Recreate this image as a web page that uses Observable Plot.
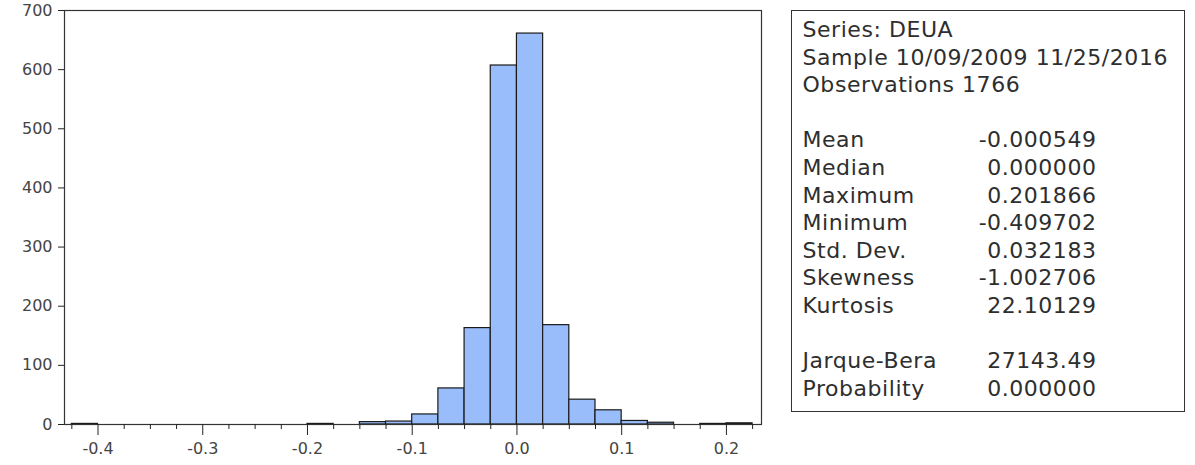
<!DOCTYPE html>
<html><head><meta charset="utf-8">
<script src="https://cdn.jsdelivr.net/npm/d3@7"></script>
<script src="https://cdn.jsdelivr.net/npm/@observablehq/plot@0.6"></script>
<style>
body{margin:0;background:#fff;}
#wrap{position:relative;width:1195px;height:465px;overflow:hidden;}
#chart{position:absolute;left:0;top:0;}
#chart svg text{font-size:16px !important;font-family:"DejaVu Sans" !important;}
#stats{position:absolute;left:791px;top:10px;width:394px;height:402px;border:1.5px solid #333;box-sizing:border-box;font-family:"DejaVu Sans";font-size:22px;color:#2e2e2e;}
.row{position:absolute;left:10.5px;width:294px;height:28px;line-height:28px;white-space:pre;letter-spacing:0.55px;}
.row .v{position:absolute;right:0;top:0;}
</style></head>
<body>
<div id="wrap"><div id="chart"></div><div id="stats"></div></div>
<script>
// Histogram data (bin lower edges, counts)
const binLower = [-0.425,-0.4,-0.375,-0.35,-0.325,-0.3,-0.275,-0.25,-0.225,-0.2,-0.175,-0.15,-0.125,-0.1,-0.075,-0.05,-0.025,0,0.025,0.05,0.075,0.1,0.125,0.15,0.175,0.2];
const counts   = [1,0,0,0,0,0,0,0,0,1,0,4,5,17,61,163,607,661,168,42,24,6,3,0,1,2];
const binWidth = 0.025;
const xTicks = [-0.4,-0.3,-0.2,-0.1,0,0.1,0.2];
const yTicks = [0,100,200,300,400,500,600,700];

// Statistics panel
const headerLines = ["Series: DEUA","Sample 10/09/2009 11/25/2016","Observations 1766"];
const statLabels = ["Mean","Median","Maximum","Minimum","Std. Dev.","Skewness","Kurtosis"];
const statValues = ["-0.000549","0.000000","0.201866","-0.409702","0.032183","-1.002706","22.10129"];
const testLabels = ["Jarque-Bera","Probability"];
const testValues = ["27143.49","0.000000"];

const bins = binLower.map((x1,i)=>({x1, x2:x1+binWidth, count:counts[i]})).filter(d=>d.count>0);
const edges = binLower.concat([binLower[binLower.length-1]+binWidth]);
const minorTicks = edges.filter(v=>Math.abs(Math.round(v*10)-v*10)>1e-6);

const chart = Plot.plot({
  width:780, height:465,
  marginLeft:64, marginRight:19, marginTop:10, marginBottom:41,
  x:{domain:[-0.432,0.2335], label:null},
  y:{domain:[0,700], label:null},
  style:{fontFamily:"DejaVu Sans", fontSize:"16px", color:"#222", background:"transparent"},
  marks:[
    Plot.rectY(bins,{x1:"x1",x2:"x2",y:"count",fill:"#99bdfa",stroke:"#1a1a1a",strokeWidth:1.2}),
    Plot.frame({stroke:"#333",strokeWidth:1.2}),
    Plot.axisY({ticks:yTicks, tickSize:6, tickPadding:6, tickFormat:d=>String(d), label:null, fill:"#444"}),
    Plot.axisX({ticks:xTicks, tickSize:11, tickPadding:7, tickFormat:d=>d.toFixed(1), label:null, fill:"#444"}),
    Plot.axisX({ticks:minorTicks, tickSize:5, tickFormat:()=>"", label:null})
  ]
});
document.getElementById("chart").appendChild(chart);

const box = document.getElementById("stats");
const rows = [];
headerLines.forEach(t=>rows.push([t,""]));
rows.push(null);
statLabels.forEach((t,i)=>rows.push([t,statValues[i]]));
rows.push(null);
testLabels.forEach((t,i)=>rows.push([t,testValues[i]]));
rows.forEach((r,i)=>{
  if(!r) return;
  const div = document.createElement("div");
  div.className="row";
  div.style.top = (5 + i*27.6)+"px";
  div.textContent = r[0];
  if(r[1]){
    const v = document.createElement("span");
    v.className="v"; v.textContent=r[1];
    div.appendChild(v);
  }
  box.appendChild(div);
});
</script>
</body></html>
